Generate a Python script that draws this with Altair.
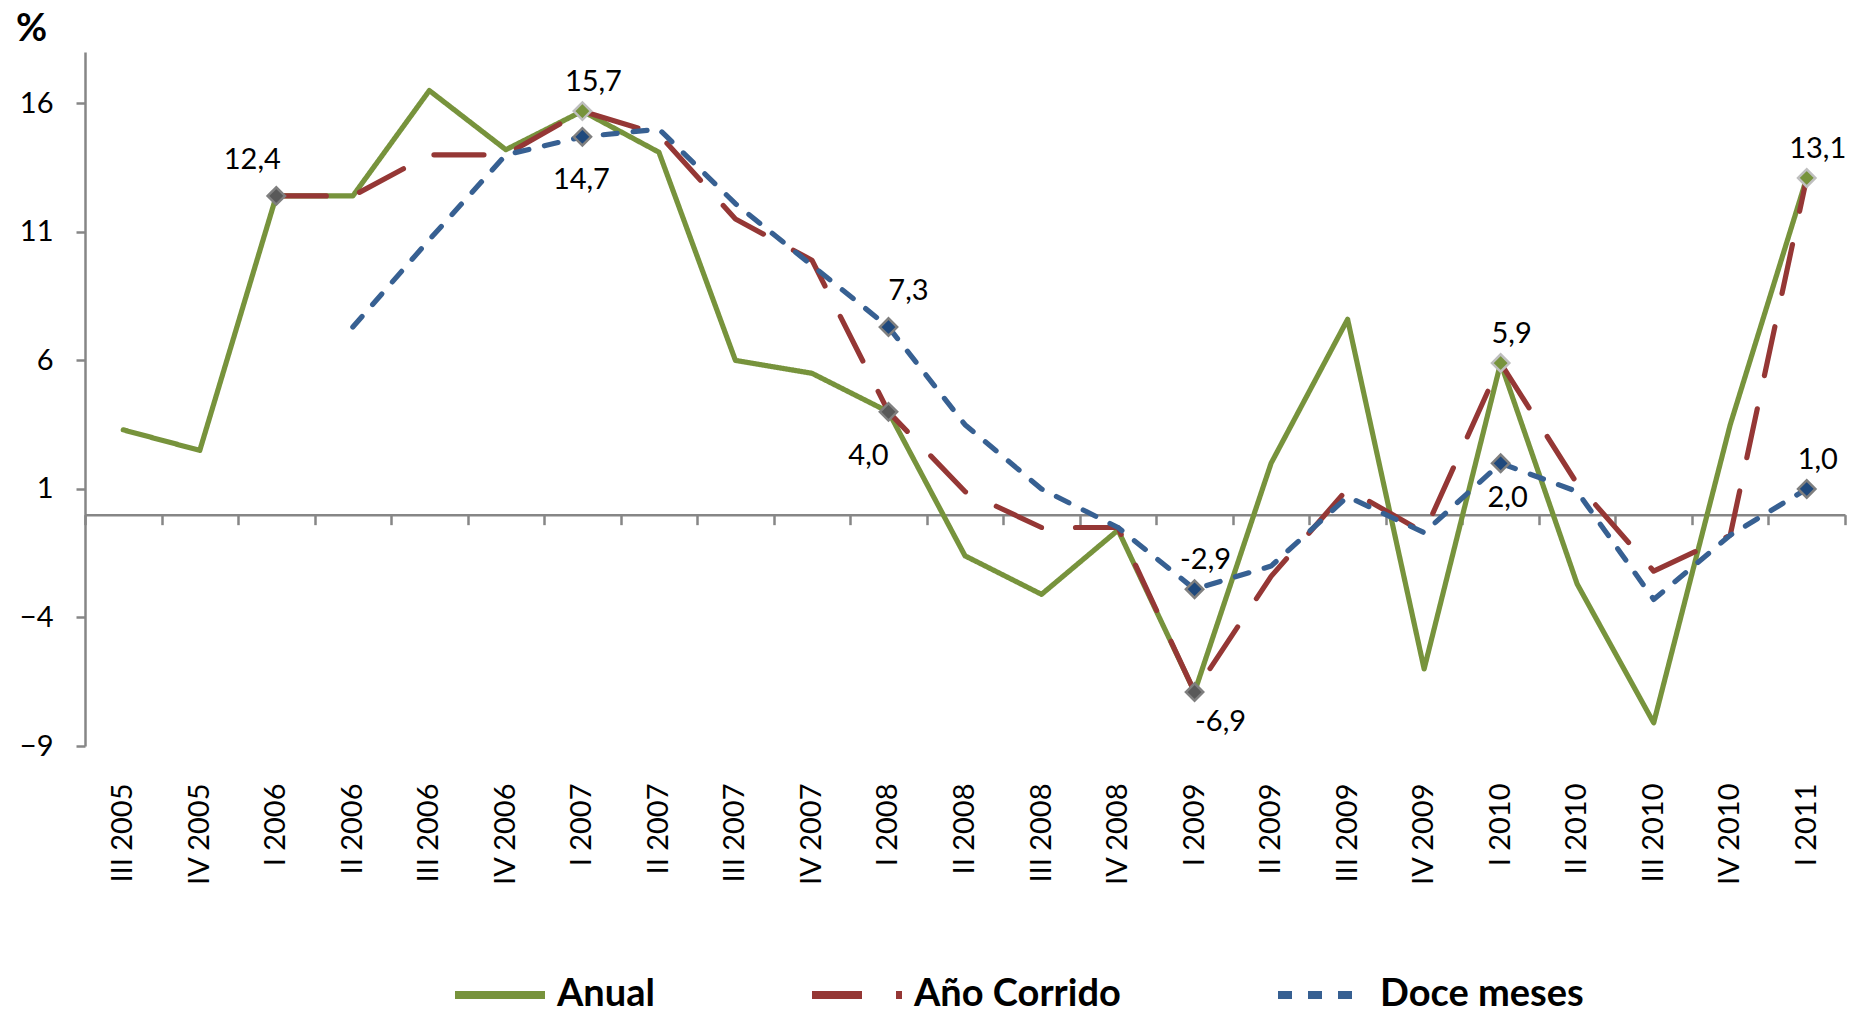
import altair as alt
import pandas as pd

# ---------------- data ----------------
trimestres = ["III 2005", "IV 2005", "I 2006", "II 2006", "III 2006", "IV 2006",
              "I 2007", "II 2007", "III 2007", "IV 2007", "I 2008", "II 2008",
              "III 2008", "IV 2008", "I 2009", "II 2009", "III 2009", "IV 2009",
              "I 2010", "II 2010", "III 2010", "IV 2010", "I 2011"]
anual = [3.3, 2.5, 12.4, 12.4, 16.5, 14.2, 15.7, 14.1, 6.0, 5.5, 4.0, -1.6,
         -3.1, -0.6, -6.9, 2.0, 7.6, -6.0, 5.9, -2.7, -8.1, 3.5, 13.1]
ano_corrido = [None, None, 12.4, 12.4, 14.0, 14.0, 15.7, 14.8, 11.5, 9.9, 4.0, 0.9,
               -0.5, -0.5, -6.9, -2.4, 1.0, -0.7, 5.9, 1.2, -2.2, -0.8, 13.1]
doce_meses = [None, None, None, 7.3, 10.7, 14.0, 14.7, 15.0, 12.1, 9.7, 7.3, 3.5,
              1.0, -0.5, -2.9, -2.0, 0.7, -0.7, 2.0, 0.9, -3.3, -0.8, 1.0]

series = ["Anual", "Año Corrido", "Doce meses"]
y_ticks = [-9, -4, 1, 6, 11, 16]

# labelled points: (quarter, series, placement)
etiquetas = [
    ("I 2006", "Año Corrido", "above_left"),
    ("I 2007", "Anual", "above"),
    ("I 2007", "Doce meses", "below"),
    ("I 2008", "Doce meses", "above_right"),
    ("I 2008", "Año Corrido", "below_left"),
    ("I 2009", "Doce meses", "above"),
    ("I 2009", "Año Corrido", "below_right"),
    ("I 2010", "Anual", "above"),
    ("I 2010", "Doce meses", "below_small"),
    ("I 2011", "Anual", "above"),
    ("I 2011", "Doce meses", "above"),
]

# ---------------- styles ----------------
line_colors = ["#77933C", "#953735", "#376092"]
line_dashes = [[1, 0], [50, 34], [14, 16]]
marker_fill = ["#77933C", "#595959", "#1F497D"]
marker_stroke = ["#BFBFBF", "#7F7F7F", "#7F7F7F"]
placements = {
    "above": (11, -29),
    "above_right": (20, -36),
    "above_left": (-24, -36),
    "below": (-1, 43),
    "below_small": (7, 35),
    "below_right": (26, 30),
    "below_left": (-20, 44),
}
FONT = "Lato"
W, H = 1760, 694
Y_MIN, Y_MAX = -9, 18
AXIS_GRAY = "#868686"

# ---------------- tables ----------------
values = {"Anual": anual, "Año Corrido": ano_corrido, "Doce meses": doce_meses}
rows = []
for s in series:
    for i, (q, v) in enumerate(zip(trimestres, values[s])):
        if v is not None:
            rows.append({"trimestre": q, "serie": s, "valor": v, "orden": i})
df = pd.DataFrame(rows)

lab_rows = []
for q, s, pos in etiquetas:
    v = values[s][trimestres.index(q)]
    lab_rows.append({"trimestre": q, "serie": s, "valor": v, "pos": pos,
                     "texto": f"{v:.1f}".replace(".", ",")})
df_lab = pd.DataFrame(lab_rows)

# ---------------- encodings ----------------
x_scale = alt.Scale(type="band", domain=trimestres, paddingInner=0, paddingOuter=0)
y_scale = alt.Scale(domain=[Y_MIN, Y_MAX], nice=False, zero=False)

y_axis = alt.Axis(values=y_ticks, grid=False, domainColor=AXIS_GRAY, domainWidth=2.5,
                  tickColor=AXIS_GRAY, tickWidth=2.5, tickSize=9,
                  labelFont=FONT, labelFontSize=29, labelColor="black", labelPadding=23,
                  title="%", titleAngle=0, titleX=-54, titleY=-23, titleAlign="center",
                  titleBaseline="middle", titleFont=FONT, titleFontSize=38,
                  titleFontWeight="bold", titleColor="black")

def y_enc():
    return alt.Y("valor:Q", scale=y_scale, axis=y_axis)

label_axis = alt.Axis(orient="bottom", ticks=False, domain=False, grid=False, labelAngle=270,
                      labelFont=FONT, labelFontSize=29, labelColor="black",
                      labelPadding=37, labelOverlap=False, labelBound=False, title=None)

# the category axis line sits on the zero value: shift it up from the plot bottom
zero_offset = H * (Y_MAX - 0) / (Y_MAX - Y_MIN) - H
tick_axis = alt.Axis(orient="bottom", labels=False, grid=False, tickBand="extent",
                     domainColor=AXIS_GRAY, domainWidth=2.5, tickColor=AXIS_GRAY,
                     tickWidth=2.5, tickSize=10, offset=zero_offset, title=None)

legend = alt.Legend(orient="none", legendX=366, legendY=894, direction="horizontal",
                    columns=3, columnPadding=141, title=None, symbolType="stroke",
                    symbolSize=8100, symbolStrokeWidth=8, labelFont=FONT,
                    labelFontSize=38, labelFontWeight="bold", labelColor="black",
                    labelOffset=8, labelLimit=500, padding=0)

lines = alt.Chart(df).mark_line(strokeWidth=5.2, strokeCap="round", strokeJoin="round").encode(
    x=alt.X("trimestre:N", scale=x_scale, axis=label_axis, bandPosition=0.5),
    y=y_enc(),
    color=alt.Color("serie:N", scale=alt.Scale(domain=series, range=line_colors), legend=legend),
    strokeDash=alt.StrokeDash("serie:N", scale=alt.Scale(domain=series, range=line_dashes),
                              legend=legend),
    detail="serie:N",
    order="orden:Q",
)

markers = alt.Chart(df_lab).mark_point(shape="diamond", size=300, filled=True,
                                       strokeWidth=2.5, opacity=1).encode(
    x=alt.X("trimestre:N", scale=x_scale, axis=tick_axis, bandPosition=0.5),
    y=y_enc(),
    fill=alt.Fill("serie:N", scale=alt.Scale(domain=series, range=marker_fill), legend=None),
    stroke=alt.Stroke("serie:N", scale=alt.Scale(domain=series, range=marker_stroke), legend=None),
)

text_layers = []
for pos, (dx, dy) in placements.items():
    t = alt.Chart(df_lab).transform_filter(alt.datum.pos == pos).mark_text(
        dx=dx, dy=dy, font=FONT, fontSize=29, color="black", align="center", baseline="middle"
    ).encode(
        x=alt.X("trimestre:N", scale=x_scale, axis=None, bandPosition=0.5),
        y=y_enc(),
        text="texto:N",
    )
    text_layers.append(t)

chart = alt.layer(lines, markers, *text_layers).resolve_axis(x="independent").properties(
    width=W, height=H, autosize="none",
    padding={"left": 77, "top": 44, "right": 8, "bottom": 262},
    background="white",
).configure_view(stroke=None)

chart.save("out.html", embed_options={"renderer": "svg", "actions": False})
